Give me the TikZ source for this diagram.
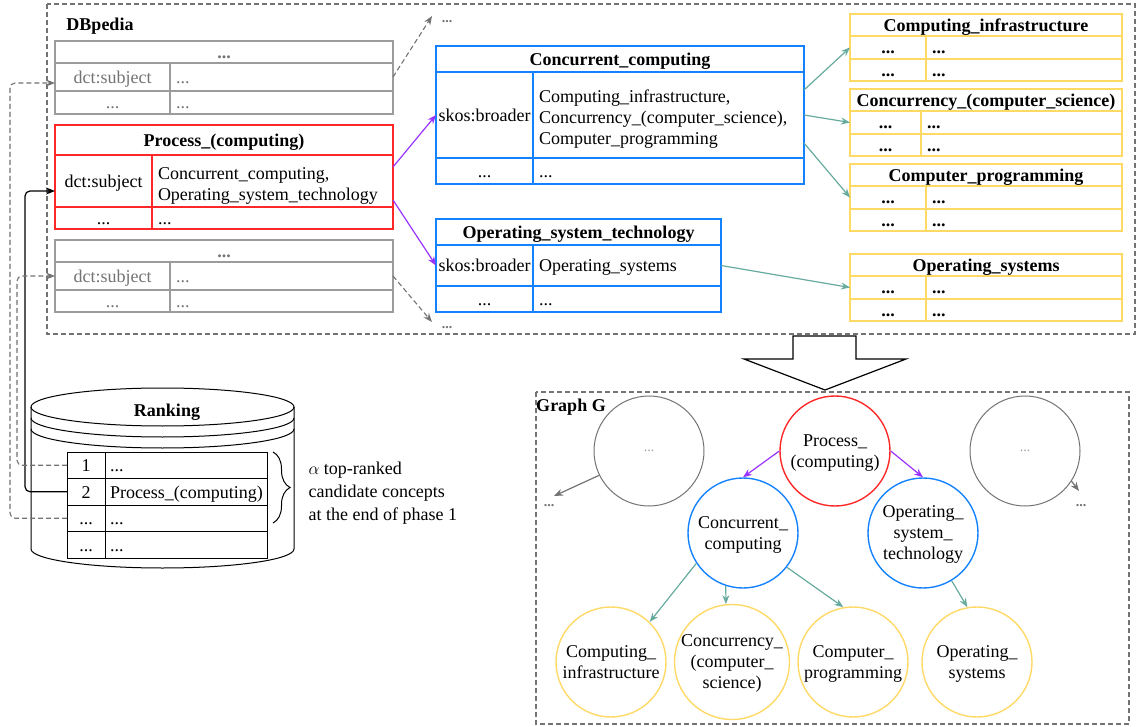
\documentclass[tikz,border=0pt]{standalone}
\usepackage{fontspec}
\setmainfont{Liberation Serif}
\usetikzlibrary{arrows.meta,decorations.pathreplacing}

\definecolor{tred}{RGB}{255,40,40}
\definecolor{tblue}{RGB}{20,130,255}
\definecolor{tyellow}{RGB}{255,217,102}
\definecolor{tteal}{RGB}{103,171,159}
\definecolor{tpurple}{RGB}{153,51,255}
\definecolor{tgray}{RGB}{155,155,155}
\definecolor{tdgray}{RGB}{115,115,115}

\newcommand{\bodyfont}{\fontsize{18}{21}\selectfont}
\newcommand{\dotfont}{\fontsize{14}{16}\selectfont}

\tikzset{
  box/.style={draw, rectangle, anchor=north west, inner sep=0pt, outer sep=0pt},
  cell/.style={box, text height=13pt, text depth=-2pt},
  head/.style={cell, font=\bodyfont\bfseries},
  lcell/.style={cell, inner xsep=6pt, text width=#1, align=left},
  mcell/.style={box, inner xsep=6pt, text width=#1, align=left, text height=21pt},
  gtab/.style={draw=tgray, text=tdgray, line width=1.2pt},
  rtab/.style={draw=tred, line width=1.3pt},
  btab/.style={draw=tblue, line width=1.3pt},
  ytab/.style={draw=tyellow, line width=1.3pt},
  ydots/.style={font=\bodyfont\bfseries},
  rktab/.style={draw=black, fill=white, line width=1pt},
  cnode/.style={circle, draw, line width=1.4pt, minimum size=110pt, inner sep=0pt, align=center, text depth=-4pt},
  link/.style={line width=1.2pt, -{Stealth[length=9pt,width=7pt]}},
  dashlink/.style={draw=tdgray, line width=1.1pt, dash pattern=on 5pt off 3pt, -{Stealth[length=9pt,width=7pt]}},
  dbframe/.style={draw=tdgray, line width=1.1pt, dash pattern=on 5pt off 3pt},
  dots/.style={text=tdgray, font=\dotfont\bfseries}
}

\begin{document}
\begin{tikzpicture}[x=1pt, y=-1pt, font=\bodyfont]
      \useasboundingbox (0,0) rectangle (1138,727);

      % Frames
      \draw[dbframe] (47,4) rectangle (1135,334);
      \draw[dbframe] (536,392) rectangle (1129,724);
      \node[font=\bodyfont\bfseries] (dbp) at (100,26) {DBpedia};
      \node[font=\bodyfont\bfseries] (gg) at (571,407) {Graph G};

      % Upper gray table
      \node[head, gtab, minimum width=338, minimum height=22] (gt0) at (55,41) {...};
      \node[cell, gtab, minimum width=115, minimum height=28] (gt1a) at (55,63) {dct:subject};
      \node[lcell=211pt, gtab, minimum height=28] (gt1b) at (170,63) {...};
      \node[cell, gtab, minimum width=115, minimum height=23] (gt2a) at (55,91) {...};
      \node[lcell=211pt, gtab, minimum height=23] (gt2b) at (170,91) {...};

      % Process table
      \node[head, rtab, minimum width=338, minimum height=30] (pc0) at (55,125) {Process\_(computing)};
      \node[cell, rtab, minimum width=97, minimum height=52] (pc1a) at (55,155) {dct:subject};
      \node[mcell=229pt, rtab, minimum height=52] (pc1b) at (152,155) {Concurrent\_computing,\\Operating\_system\_technology};
      \node[cell, rtab, minimum width=97, minimum height=22] (pc2a) at (55,207) {...};
      \node[lcell=229pt, rtab, minimum height=22] (pc2b) at (152,207) {...};

      % Lower gray table
      \node[head, gtab, minimum width=338, minimum height=22] (gb0) at (55,240) {...};
      \node[cell, gtab, minimum width=115, minimum height=28] (gb1a) at (55,262) {dct:subject};
      \node[lcell=211pt, gtab, minimum height=28] (gb1b) at (170,262) {...};
      \node[cell, gtab, minimum width=115, minimum height=22] (gb2a) at (55,290) {...};
      \node[lcell=211pt, gtab, minimum height=22] (gb2b) at (170,290) {...};

      % Blue tables
      \node[head, btab, minimum width=368, minimum height=26] (cc0) at (436,46) {Concurrent\_computing};
      \node[cell, btab, minimum width=97, minimum height=86] (cc1a) at (436,72) {skos:broader};
      \node[mcell=259pt, btab, minimum height=86] (cc1b) at (533,72) {Computing\_infrastructure,\\Concurrency\_(computer\_science),\\Computer\_programming};
      \node[cell, btab, minimum width=97, minimum height=26] (cc2a) at (436,158) {...};
      \node[lcell=259pt, btab, minimum height=26] (cc2b) at (533,158) {...};

      \node[head, btab, minimum width=285, minimum height=26] (os0) at (436,219) {Operating\_system\_technology};
      \node[cell, btab, minimum width=97, minimum height=41] (os1a) at (436,245) {skos:broader};
      \node[lcell=176pt, btab, minimum height=41] (os1b) at (533,245) {Operating\_systems};
      \node[cell, btab, minimum width=97, minimum height=26] (os2a) at (436,286) {...};
      \node[lcell=176pt, btab, minimum height=26] (os2b) at (533,286) {...};

      % Yellow tables
      \node[head, ytab, minimum width=272, minimum height=22] (ci0) at (850,14) {Computing\_infrastructure};
      \node[cell, ytab, ydots, minimum width=76, minimum height=23] (ci1a) at (850,36) {...};
      \node[lcell=184pt, ytab, ydots, minimum height=23] (ci1b) at (926,36) {...};
      \node[cell, ytab, ydots, minimum width=76, minimum height=22] (ci2a) at (850,59) {...};
      \node[lcell=184pt, ytab, ydots, minimum height=22] (ci2b) at (926,59) {...};

      \node[head, ytab, minimum width=272, minimum height=22] (cs0) at (850,89) {Concurrency\_(computer\_science)};
      \node[cell, ytab, ydots, minimum width=71, minimum height=23] (cs1a) at (850,111) {...};
      \node[lcell=189pt, ytab, ydots, minimum height=23] (cs1b) at (921,111) {...};
      \node[cell, ytab, ydots, minimum width=71, minimum height=22] (cs2a) at (850,134) {...};
      \node[lcell=189pt, ytab, ydots, minimum height=22] (cs2b) at (921,134) {...};

      \node[head, ytab, minimum width=272, minimum height=22] (cp0) at (850,164) {Computer\_programming};
      \node[cell, ytab, ydots, minimum width=76, minimum height=23] (cp1a) at (850,186) {...};
      \node[lcell=184pt, ytab, ydots, minimum height=23] (cp1b) at (926,186) {...};
      \node[cell, ytab, ydots, minimum width=76, minimum height=22] (cp2a) at (850,209) {...};
      \node[lcell=184pt, ytab, ydots, minimum height=22] (cp2b) at (926,209) {...};

      \node[head, ytab, minimum width=272, minimum height=22] (osy0) at (850,254) {Operating\_systems};
      \node[cell, ytab, ydots, minimum width=76, minimum height=23] (osy1a) at (850,276) {...};
      \node[lcell=184pt, ytab, ydots, minimum height=23] (osy1b) at (926,276) {...};
      \node[cell, ytab, ydots, minimum width=76, minimum height=22] (osy2a) at (850,299) {...};
      \node[lcell=184pt, ytab, ydots, minimum height=22] (osy2b) at (926,299) {...};

      % Table links
      \draw[link, tpurple] ([yshift=14pt]pc1b.east) -- (cc1a.west);
      \draw[link, tpurple] ([yshift=-19pt]pc1b.east) -- (os1a.west);
      \draw[link, tteal] ([yshift=25pt]cc1b.east) -- (ci1a.west);
      \draw[link, tteal] (cc1b.east) -- (cs1a.west);
      \draw[link, tteal] ([yshift=-28pt]cc1b.east) -- (cp1a.west);
      \draw[link, tteal] (os1b.east) -- (osy1a.west);

      % Other concepts
      \coordinate (upend) at (432,16);
      \coordinate (downend) at (432,322);
      \node[dots] (updots) at (447,22) {...};
      \node[dots] (downdots) at (447,328) {...};
      \draw[dashlink] (gt1b.east) -- (upend);
      \draw[dashlink] (gb1b.east) -- (downend);

      % Ranking store
      \draw[line width=1pt] (31,407) -- (31,549) arc[start angle=180, end angle=360, x radius=131.5pt, y radius=19pt] -- (294,407);
      \draw[line width=1pt] (162.5,407) ellipse[x radius=131.5pt, y radius=19pt];
      \draw[line width=1pt] (31,418) arc[start angle=180, end angle=360, x radius=131.5pt, y radius=19pt];
      \draw[line width=1pt] (31,429) arc[start angle=180, end angle=360, x radius=131.5pt, y radius=19pt];
      \node[font=\bodyfont\bfseries] (rank) at (167,412) {Ranking};

      \node[cell, rktab, minimum width=38, minimum height=26.5] (rk1a) at (67,452) {1};
      \node[lcell=152pt, inner xsep=5pt, rktab, minimum height=26.5] (rk1b) at (105,452) {...};
      \node[cell, rktab, minimum width=38, minimum height=26.5] (rk2a) at (67,478.5) {2};
      \node[lcell=152pt, inner xsep=5pt, rktab, minimum height=26.5] (rk2b) at (105,478.5) {Process\_(computing)};
      \node[cell, rktab, minimum width=38, minimum height=26.5] (rk3a) at (67,505) {...};
      \node[lcell=152pt, inner xsep=5pt, rktab, minimum height=26.5] (rk3b) at (105,505) {...};
      \node[cell, rktab, minimum width=38, minimum height=26.5] (rk4a) at (67,531.5) {...};
      \node[lcell=152pt, inner xsep=5pt, rktab, minimum height=26.5] (rk4b) at (105,531.5) {...};

      % Brace
      \draw[decorate, decoration={brace, amplitude=17pt}, line width=1pt] (273,452) -- (273,523);
      \node[anchor=west, align=left, font=\fontsize{18}{23}\selectfont] (alpha) at (305,493) {$\alpha$ top-ranked\\candidate concepts\\at the end of phase 1};

      % Ranking links
      \draw[link, black, rounded corners=5pt] (rk2a.west) -- ++(-42,0) |- ([yshift=-10pt]pc1a.west);
      \draw[dashlink, rounded corners=5pt] (rk1a.west) -- ++(-50,0) |- (gb1a.west);
      \draw[dashlink, rounded corners=5pt] (rk3a.west) -- ++(-57,0) |- ([yshift=-6pt]gt1a.west);

      % Big arrow
      \draw[line width=1.2pt, fill=white] (793,336) -- (856,336) -- (856,359) -- (906,359) -- (825,390) -- (744,359) -- (793,359) -- cycle;

      % Graph G
      \node[cnode, draw=tred] (gp) at (835,451) {Process\_\\(computing)};
      \node[cnode, draw=tblue] (gcc) at (743,533) {Concurrent\_\\computing};
      \node[cnode, draw=tblue] (gos) at (923,533) {Operating\_\\system\_\\technology};
      \node[cnode, draw=tdgray, line width=1pt, text=tgray, font=\dotfont] (gl) at (649,451) {...};
      \node[cnode, draw=tdgray, line width=1pt, text=tgray, font=\dotfont] (gr) at (1025,451) {...};
      \node[cnode, draw=tyellow] (gci) at (611,662) {Computing\_\\infrastructure};
      \node[cnode, draw=tyellow] (gcs) at (732,662) {Concurrency\_\\(computer\_\\science)};
      \node[cnode, draw=tyellow] (gcp) at (853,662) {Computer\_\\programming};
      \node[cnode, draw=tyellow] (gosy) at (977,662) {Operating\_\\systems};

      \coordinate (glend) at (554,496);
      \coordinate (grend) at (1079,491);
      \node[dots] (gldots) at (549,506) {...};
      \node[dots] (grdots) at (1081,506) {...};

      % Graph links
      \draw[link, tpurple] (gp.west) -- (gcc.north);
      \draw[link, tpurple] (gp.east) -- (gos.north);
      \draw[link, tteal] (gcc.213) -- (gci.46);
      \draw[link, tteal] (gcc.252) -- (gcs.96);
      \draw[link, tteal] (gcc.322) -- (gcp.100);
      \draw[link, tteal] (gos.301) -- (gosy.100);
      \draw[link, tdgray] (gl.206) -- (glend);
      \draw[link, tdgray] (gr.327) -- (grend);

    \end{tikzpicture}
\end{document}
